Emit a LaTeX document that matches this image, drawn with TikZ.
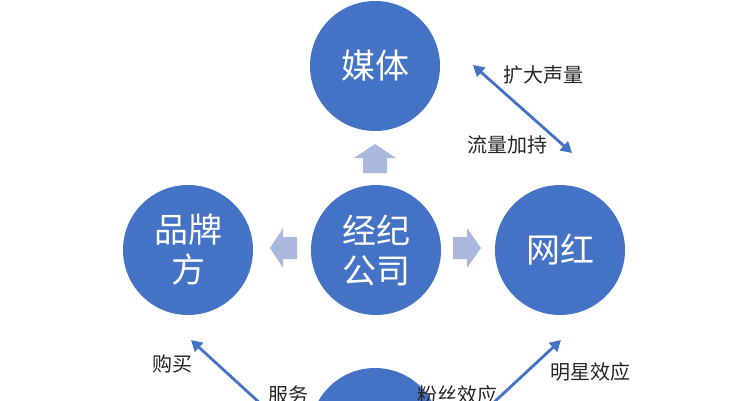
\documentclass[tikz,border=0pt]{standalone}
\usepackage{fontspec}
\setmainfont{Noto Sans CJK SC}
\usetikzlibrary{arrows.meta}
\definecolor{cblue}{HTML}{4472C4}
\definecolor{lblue}{HTML}{A9B8DC}
\definecolor{txt}{HTML}{262626}
\begin{document}
\begin{tikzpicture}[x=1pt,y=-1pt,
  bubble/.style={circle,fill=cblue,minimum size=130pt,inner sep=0pt,text=white,
    font=\fontsize{34}{40}\selectfont,align=center},
  lbl/.style={text=txt,font=\fontsize{20}{22}\selectfont,inner sep=0pt},
  conn/.style={draw=cblue,line width=2.8pt,-{Triangle[length=11pt,width=12pt]}},
  dconn/.style={draw=cblue,line width=2.8pt,{Triangle[length=11pt,width=12pt]}-{Triangle[length=11pt,width=12pt]}},
  blk/.style={fill=lblue}]
\useasboundingbox (0,0) rectangle (750,400);
% circles
\node[bubble] (media) at (375,66) {媒体};
\node[bubble] (agency) at (376,250) {经纪\\公司};
\node[bubble] (brand) at (188,250) {品牌\\方};
\node[bubble] (kol) at (560,250) {网红};
\node[bubble] (fans) at (375,433) {};
% block arrows
\fill[blk] (375,144) -- (396,158) -- (387,158) -- (387,173) -- (363,173) -- (363,158) -- (354,158) -- cycle;
\fill[blk] (270,248) -- (283,228) -- (283,237) -- (297,237) -- (297,259) -- (283,259) -- (283,268) -- cycle;
\fill[blk] (481,248) -- (467,228) -- (467,237) -- (453,237) -- (453,259) -- (467,259) -- (467,268) -- cycle;
% connectors
\coordinate (d1) at (473,65);
\coordinate (d2) at (572,153);
\draw[dconn] (d1) -- (d2);
\coordinate (bl0) at (262,405);
\coordinate (bl1) at (191,340);
\draw[conn] (bl0) -- (bl1);
\coordinate (br0) at (491,405);
\coordinate (br1) at (561,340);
\draw[conn] (br0) -- (br1);
% labels
\node[lbl] (l1) at (543,75) {扩大声量};
\node[lbl] (l2) at (507,145) {流量加持};
\node[lbl] (l3) at (172,364) {购买};
\node[lbl] (l4) at (288,395) {服务};
\node[lbl] (l5) at (590,372) {明星效应};
\node[lbl] (l6) at (457,395) {粉丝效应};
\end{tikzpicture}
\end{document}
